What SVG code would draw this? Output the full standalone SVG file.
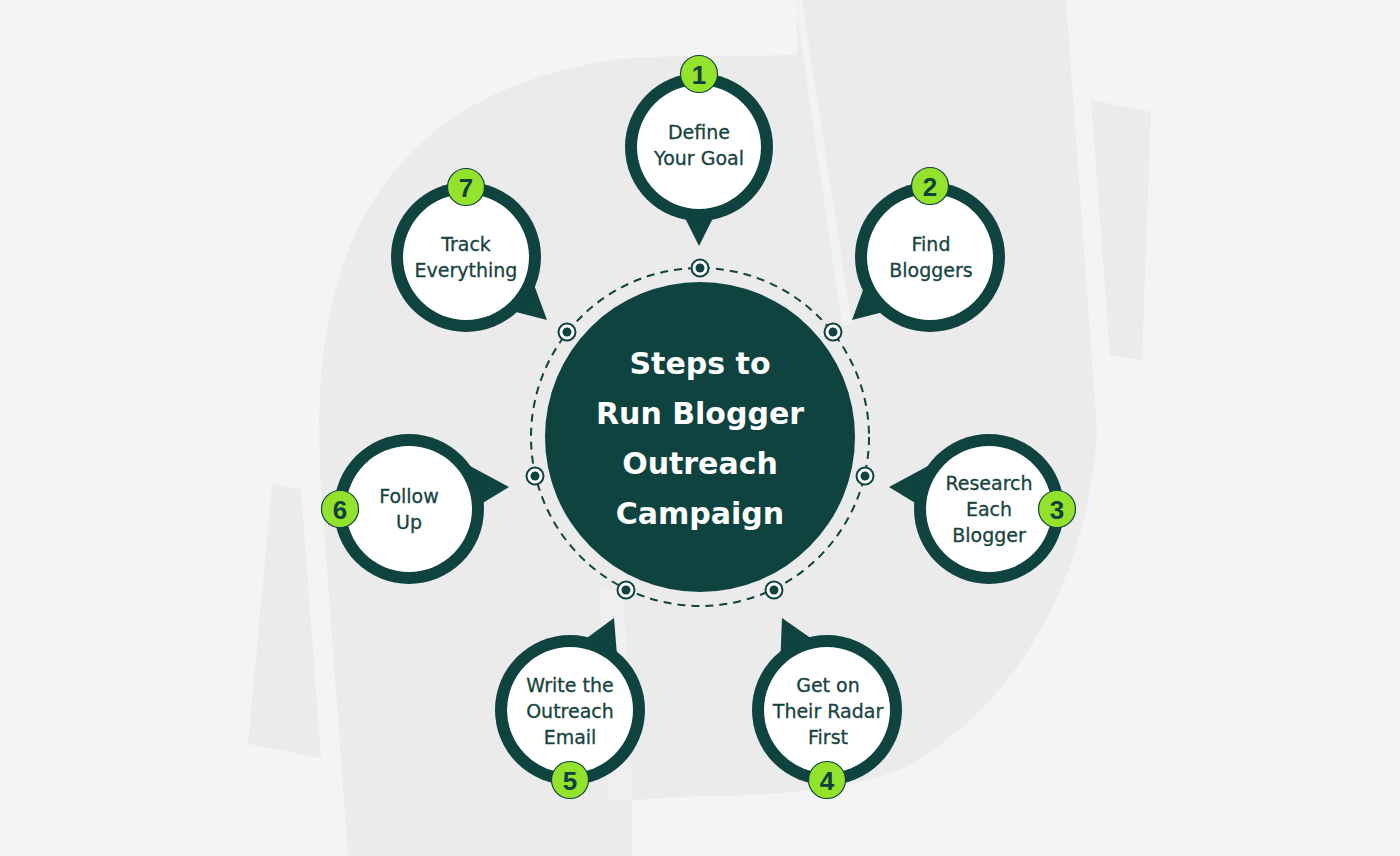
<svg xmlns="http://www.w3.org/2000/svg" width="1400" height="856" viewBox="0 0 1400 856">
  <defs>
    <style>
      .ring { fill: #0f4340; }
      .inner { fill: #ffffff; }
      .lbl { font-family: "DejaVu Sans", "Open Sans", sans-serif; font-size: 19px; fill: #17443f; stroke: #17443f; stroke-width: 0.3; text-anchor: middle; }
      .title { font-family: "DejaVu Sans", "Open Sans", sans-serif; font-weight: bold; font-size: 30px; fill: #ffffff; text-anchor: middle; }
      .badge { fill: #93e22c; stroke: #0f4340; stroke-width: 1.2; }
      .num { font-family: "Liberation Sans", Arial, sans-serif; font-weight: bold; font-size: 26px; fill: #12403d; text-anchor: middle; }
      .dot { fill: #ffffff; stroke: #0f4340; stroke-width: 2; }
      .dotc { fill: #0f4340; }
    </style>
  </defs>

  <!-- background -->
  <rect x="0" y="0" width="1400" height="856" fill="#f4f4f4"/>
  <g id="background">
    <path d="M 348 856 L 322 500 C 314 390, 322 300, 362 220 C 410 130, 500 70, 640 57 L 797 55 L 797 0 L 1066 0 L 1097 430 C 1090 560, 1030 700, 900 770 C 840 792, 760 796, 700 796 L 632 800 L 632 856 Z" fill="#ebebeb"/>
    <polygon points="795,0 802,0 852,325 842,325" fill="#f2f2f2"/>
    <polygon points="600,590 624,590 632,800 608,800" fill="#efefef"/>
    <polygon points="1091,100 1151,112 1142,360 1110,355" fill="#ebebeb"/>
    <polygon points="272,484 301,489 321,758 248,744" fill="#ebebeb"/>
  </g>

  <!-- connectors: dashed ring with dots -->
  <g id="connectors">
    <circle cx="700" cy="437" r="169" fill="none" stroke="#0f4340" stroke-width="2" stroke-dasharray="8 6"/>
    <circle class="dot" cx="700" cy="268" r="8.5"/><circle class="dotc" cx="700" cy="268" r="4.5"/>
    <circle class="dot" cx="567" cy="332" r="8.5"/><circle class="dotc" cx="567" cy="332" r="4.5"/>
    <circle class="dot" cx="833" cy="332" r="8.5"/><circle class="dotc" cx="833" cy="332" r="4.5"/>
    <circle class="dot" cx="535" cy="476" r="8.5"/><circle class="dotc" cx="535" cy="476" r="4.5"/>
    <circle class="dot" cx="865" cy="476" r="8.5"/><circle class="dotc" cx="865" cy="476" r="4.5"/>
    <circle class="dot" cx="626" cy="590" r="8.5"/><circle class="dotc" cx="626" cy="590" r="4.5"/>
    <circle class="dot" cx="774" cy="590" r="8.5"/><circle class="dotc" cx="774" cy="590" r="4.5"/>
  </g>

  <!-- center -->
  <g id="center">
    <circle cx="700" cy="437" r="155" fill="#0f4340"/>
    <text class="title" x="700" y="374">Steps to</text>
    <text class="title" x="700" y="424">Run Blogger</text>
    <text class="title" x="700" y="474">Outreach</text>
    <text class="title" x="700" y="524">Campaign</text>
  </g>

  <!-- node 1 -->
  <g id="node1">
    <polygon class="ring" points="679,206 719,206 699,246"/>
    <circle class="ring" cx="699" cy="147" r="74"/>
    <circle class="inner" cx="699" cy="147" r="62"/>
    <text class="lbl" x="699" y="139">Define</text>
    <text class="lbl" x="699" y="165">Your Goal</text>
    <circle class="badge" cx="699" cy="74" r="18.5"/>
    <text class="num" x="699" y="83.5">1</text>
  </g>

  <!-- node 2 -->
  <g id="node2">
    <polygon class="ring" points="852,320 866,282 895,309"/>
    <circle class="ring" cx="930" cy="257" r="75"/>
    <circle class="inner" cx="930" cy="257" r="63"/>
    <text class="lbl" x="931" y="251">Find</text>
    <text class="lbl" x="931" y="277">Bloggers</text>
    <circle class="badge" cx="930" cy="186" r="18.5"/>
    <text class="num" x="930" y="195.5">2</text>
  </g>

  <!-- node 3 -->
  <g id="node3">
    <polygon class="ring" points="889,487 928,466 930,512"/>
    <circle class="ring" cx="989" cy="509" r="75"/>
    <circle class="inner" cx="989" cy="509" r="63"/>
    <text class="lbl" x="989" y="490">Research</text>
    <text class="lbl" x="989" y="516">Each</text>
    <text class="lbl" x="989" y="542">Blogger</text>
    <circle class="badge" cx="1057" cy="509" r="18.5"/>
    <text class="num" x="1057" y="518.5">3</text>
  </g>

  <!-- node 4 -->
  <g id="node4">
    <polygon class="ring" points="782,618 780,668 822,646"/>
    <circle class="ring" cx="827" cy="710" r="75"/>
    <circle class="inner" cx="827" cy="710" r="63"/>
    <text class="lbl" x="828" y="692">Get on</text>
    <text class="lbl" x="828" y="718">Their Radar</text>
    <text class="lbl" x="828" y="744">First</text>
    <circle class="badge" cx="827" cy="780" r="18.5"/>
    <text class="num" x="827" y="789.5">4</text>
  </g>

  <!-- node 5 -->
  <g id="node5">
    <polygon class="ring" points="614,618 618,668 576,646"/>
    <circle class="ring" cx="570" cy="710" r="75"/>
    <circle class="inner" cx="570" cy="710" r="63"/>
    <text class="lbl" x="570" y="692">Write the</text>
    <text class="lbl" x="570" y="718">Outreach</text>
    <text class="lbl" x="570" y="744">Email</text>
    <circle class="badge" cx="570" cy="780" r="18.5"/>
    <text class="num" x="570" y="789.5">5</text>
  </g>

  <!-- node 6 -->
  <g id="node6">
    <polygon class="ring" points="509,487 470,466 468,512"/>
    <circle class="ring" cx="409" cy="509" r="75"/>
    <circle class="inner" cx="409" cy="509" r="63"/>
    <text class="lbl" x="409" y="503">Follow</text>
    <text class="lbl" x="409" y="529">Up</text>
    <circle class="badge" cx="340" cy="509" r="18.5"/>
    <text class="num" x="340" y="518.5">6</text>
  </g>

  <!-- node 7 -->
  <g id="node7">
    <polygon class="ring" points="547,320 533,282 504,309"/>
    <circle class="ring" cx="466" cy="257" r="75"/>
    <circle class="inner" cx="466" cy="257" r="63"/>
    <text class="lbl" x="466" y="251">Track</text>
    <text class="lbl" x="466" y="277">Everything</text>
    <circle class="badge" cx="466" cy="187" r="18.5"/>
    <text class="num" x="466" y="196.5">7</text>
  </g>
</svg>
